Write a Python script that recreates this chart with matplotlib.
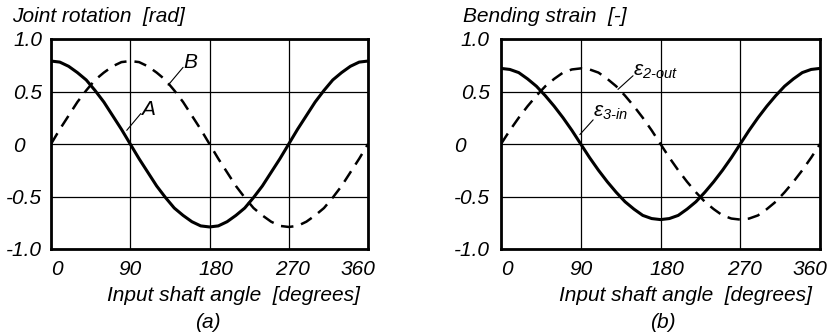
import matplotlib
matplotlib.use("Agg")
import matplotlib.pyplot as plt
from matplotlib.transforms import ScaledTranslation

plt.rcParams['font.family'] = ['Liberation Sans', 'DejaVu Sans']
plt.rcParams['font.style'] = 'italic'
plt.rcParams['mathtext.fontset'] = 'custom'
plt.rcParams['mathtext.it'] = 'Liberation Sans:italic'
plt.rcParams['mathtext.rm'] = 'Liberation Sans:italic'

angle = [0, 10, 20, 30, 40, 50, 60, 70, 80, 90, 100, 110, 120, 130, 140, 150, 160, 170, 180,
         190, 200, 210, 220, 230, 240, 250, 260, 270, 280, 290, 300, 310, 320, 330, 340, 350, 360]

rot_A = [0.79, 0.78, 0.74, 0.68, 0.61, 0.51, 0.40, 0.27, 0.14, 0.00, -0.14, -0.27, -0.40, -0.51,
         -0.61, -0.68, -0.74, -0.78, -0.79, -0.78, -0.74, -0.68, -0.61, -0.51, -0.40, -0.27,
         -0.14, 0.00, 0.14, 0.27, 0.40, 0.51, 0.61, 0.68, 0.74, 0.78, 0.79]
rot_B = [0.00, 0.14, 0.27, 0.40, 0.51, 0.61, 0.68, 0.74, 0.78, 0.79, 0.78, 0.74, 0.68, 0.61,
         0.51, 0.40, 0.27, 0.14, 0.00, -0.14, -0.27, -0.40, -0.51, -0.61, -0.68, -0.74, -0.78,
         -0.79, -0.78, -0.74, -0.68, -0.61, -0.51, -0.40, -0.27, -0.14, 0.00]

eps_3in = [0.72, 0.71, 0.68, 0.62, 0.55, 0.46, 0.36, 0.25, 0.13, 0.00, -0.13, -0.25, -0.36, -0.46,
           -0.55, -0.62, -0.68, -0.71, -0.72, -0.71, -0.68, -0.62, -0.55, -0.46, -0.36, -0.25,
           -0.13, 0.00, 0.13, 0.25, 0.36, 0.46, 0.55, 0.62, 0.68, 0.71, 0.72]
eps_2out = [0.00, 0.13, 0.25, 0.36, 0.46, 0.55, 0.62, 0.68, 0.71, 0.72, 0.71, 0.68, 0.62, 0.55,
            0.46, 0.36, 0.25, 0.13, 0.00, -0.13, -0.25, -0.36, -0.46, -0.55, -0.62, -0.68, -0.71,
            -0.72, -0.71, -0.68, -0.62, -0.55, -0.46, -0.36, -0.25, -0.13, 0.00]

xticks = [0, 90, 180, 270, 360]
xticklabels = ['0', '90', '180', '270', '360']
yticks = [1.0, 0.5, 0.0, -0.5, -1.0]
yticklabels = ['1.0', '0.5', '0', '-0.5', '-1.0']

FS = 15
fig = plt.figure(figsize=(8.3, 3.36), dpi=100)
axL = fig.add_axes([51/830, 1-249/336, 317/830, 210/336])
axR = fig.add_axes([501/830, 1-249/336, 319/830, 210/336])

def style(ax, ypad, zero_shift):
    ax.set_xlim(0, 360)
    ax.set_ylim(-1.0, 1.0)
    ax.set_xticks(xticks)
    ax.set_xticklabels(xticklabels, fontsize=FS)
    ax.set_yticks(yticks)
    ax.set_yticklabels(yticklabels, fontsize=FS)
    ax.tick_params(axis='x', length=0, pad=8)
    ax.tick_params(axis='y', length=0, pad=ypad)
    ax.grid(True, color='black', linewidth=0.9)
    for s in ax.spines.values():
        s.set_linewidth(2.0)
    xoff = {'0': 6, '90': 0, '180': 6, '270': 4, '360': -10}
    for lab in ax.get_xticklabels():
        dx = xoff.get(lab.get_text(), 0)
        lab.set_transform(lab.get_transform() + ScaledTranslation(dx/100, 0, fig.dpi_scale_trans))
    for lab in ax.get_yticklabels():
        if lab.get_text() == '0':
            lab.set_transform(lab.get_transform() + ScaledTranslation(zero_shift/100, 0, fig.dpi_scale_trans))
    ax.set_xlabel('Input shaft angle  [degrees]', fontsize=FS)
    ax.xaxis.set_label_coords(0.577, -0.175)

style(axL, 6.5, -17)
style(axR, 8, -24)

axL.plot(angle, rot_A, color='black', lw=2.2, solid_capstyle='butt')
axL.plot(angle, rot_B, color='black', lw=1.8, dashes=(5, 3.2))
axR.plot(angle, eps_3in, color='black', lw=2.2, solid_capstyle='butt')
axR.plot(angle, eps_2out, color='black', lw=1.8, dashes=(5, 3.2))

lead = dict(arrowstyle='-', color='black', lw=0.8, shrinkA=0, shrinkB=0)
# leaders
axL.annotate('', xy=(133, 0.56), xytext=(150, 0.73), arrowprops=lead)
axL.annotate('', xy=(86, 0.13), xytext=(102, 0.29), arrowprops=lead)
axR.annotate('', xy=(132, 0.52), xytext=(149, 0.65), arrowprops=lead)
axR.annotate('', xy=(89, 0.09), xytext=(104, 0.23), arrowprops=lead)
# labels
axL.text(158, 0.78, 'B', fontsize=FS, ha='center', va='center')
axL.text(110, 0.33, 'A', fontsize=FS, ha='center', va='center')
axR.text(149, 0.69, r'$\varepsilon_{2\text{-}out}$', fontsize=FS, ha='left', va='center')
axR.text(104, 0.30, r'$\varepsilon_{3\text{-}in}$', fontsize=FS, ha='left', va='center')

fig.text(12/830, 1-16/336, 'Joint rotation  [rad]', fontsize=FS, ha='left', va='center')
fig.text(463/830, 1-16/336, 'Bending strain  [-]', fontsize=FS, ha='left', va='center')
fig.text(208/830, 1-322/336, '(a)', fontsize=FS, ha='center', va='center')
fig.text(663/830, 1-322/336, '(b)', fontsize=FS, ha='center', va='center')

fig.savefig('out.png', dpi=100)
